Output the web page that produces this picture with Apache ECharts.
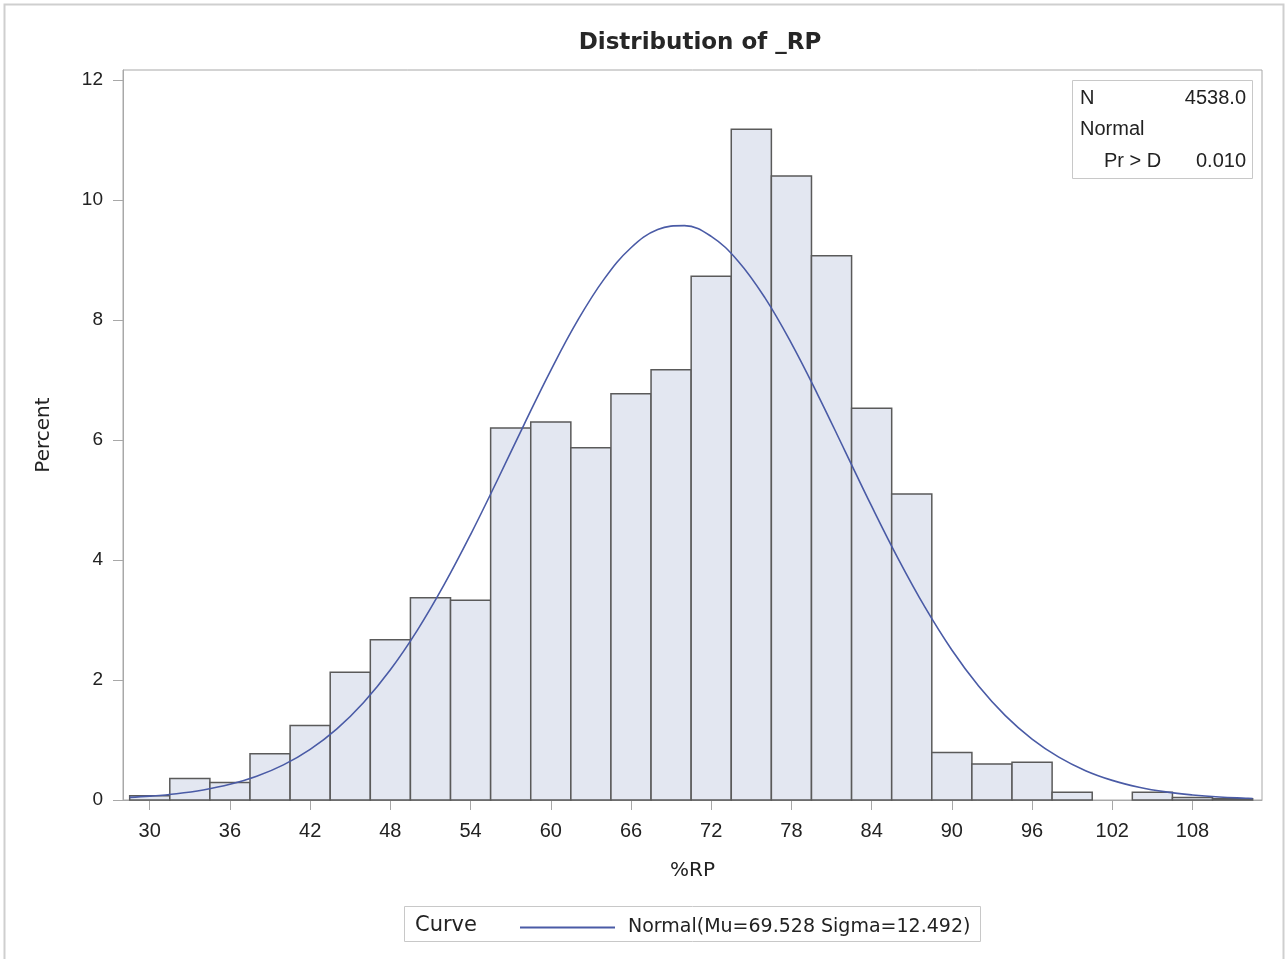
<!DOCTYPE html>
<html>
<head>
<meta charset="utf-8">
<script src="https://cdn.jsdelivr.net/npm/echarts@6/dist/echarts.min.js"></script>
<style>
  html, body { margin: 0; padding: 0; background: #fff; }
  #chart { width: 1286px; height: 959px; }
</style>
</head>
<body>
<div id="chart"></div>
<script>
// histogram bins (midpoints, width 3) and percent per bin
const binMids = [30, 33, 36, 39, 42, 45, 48, 51, 54, 57, 60, 63, 66, 69, 72, 75, 78, 81, 84, 87, 90, 93, 96, 99, 102, 105, 108, 111];
const binPct = [0.07, 0.36, 0.29, 0.77, 1.24, 2.13, 2.67, 3.37, 3.33, 6.2, 6.3, 5.87, 6.77, 7.17, 8.73, 11.18, 10.4, 9.07, 6.53, 5.1, 0.79, 0.6, 0.63, 0.13, 0, 0.13, 0.04, 0.02];
const binWidth = 3;

// fitted normal curve
const curveX = [28.5, 30, 32, 34, 36, 38, 40, 42, 44, 46, 48, 50, 52, 54, 56, 58, 60, 62, 64, 66, 68, 70, 72, 74, 76, 78, 80, 82, 84, 86, 88, 90, 92, 94, 96, 98, 100, 102, 104, 106, 108, 110, 112, 112.5];
const curveY = [0.044, 0.064, 0.105, 0.168, 0.261, 0.396, 0.586, 0.845, 1.187, 1.626, 2.17, 2.823, 3.58, 4.424, 5.329, 6.258, 7.162, 7.989, 8.686, 9.205, 9.508, 9.573, 9.394, 8.985, 8.377, 7.611, 6.741, 5.82, 4.897, 4.016, 3.21, 2.501, 1.9, 1.406, 1.015, 0.714, 0.489, 0.327, 0.213, 0.135, 0.084, 0.05, 0.03, 0.026];

const xTicks = [30, 36, 42, 48, 54, 60, 66, 72, 78, 84, 90, 96, 102, 108];
const yTicks = [0, 2, 4, 6, 8, 10, 12];

const legendName = "Normal(Mu=69.528 Sigma=12.492)";

const chart = echarts.init(document.getElementById("chart"), null, { renderer: "canvas" });
const fontLatin = "'Liberation Sans', Arial, sans-serif";
const fontWide = "'DejaVu Sans', sans-serif";

const option = {
  backgroundColor: "#fff",
  animation: false,
  title: {
    text: "Distribution of _RP",
    left: 695, top: 27, textAlign: "center",
    textStyle: { fontFamily: fontWide, fontSize: 23, fontWeight: "bold", color: "#262626" },
  },
  grid: {
    left: 123, right: 24, top: 70, bottom: 159,
    show: true, borderColor: "#a8a8a8", borderWidth: 1,
  },
  xAxis: {
    type: "value", min: 28, max: 113.2,
    name: "%RP", nameLocation: "middle", nameGap: 61,
    nameTextStyle: { fontFamily: fontWide, fontSize: 20, color: "#222" },
    axisLine: { show: true, lineStyle: { color: "#a8a8a8" } },
    axisTick: { show: true, length: 10, lineStyle: { color: "#a8a8a8" }, customValues: xTicks },
    axisLabel: { fontFamily: fontLatin, fontSize: 20, color: "#222", margin: 21, customValues: xTicks },
    splitLine: { show: false },
  },
  yAxis: {
    type: "value", min: 0, max: 12.167,
    name: "Percent", nameLocation: "middle", nameGap: 69, nameRotate: 90,
    nameTextStyle: { fontFamily: fontWide, fontSize: 20, color: "#222" },
    axisLine: { show: true, lineStyle: { color: "#a8a8a8" } },
    axisTick: { show: true, length: 10, lineStyle: { color: "#a8a8a8" }, customValues: yTicks },
    axisLabel: { fontFamily: fontLatin, fontSize: 19, color: "#222", margin: 20, customValues: yTicks },
    splitLine: { show: false },
  },
  legend: {
    data: [{ name: legendName, icon: "rect" }],
    left: 515, top: 913,
    itemWidth: 95, itemHeight: 2,
    textStyle: { fontFamily: fontWide, fontSize: 19, color: "#222", padding: [0, 0, 0, 8] },
    selectedMode: false,
  },
  series: [
    {
      name: "bins",
      type: "custom",
      data: binMids.map((m, i) => [m, binPct[i]]),
      renderItem: (params, api) => {
        const x = api.value(0), y = api.value(1);
        if (y <= 0) return null;
        const p0 = api.coord([x - binWidth / 2, y]);
        const p1 = api.coord([x + binWidth / 2, 0]);
        return {
          type: "rect",
          shape: { x: p0[0], y: p0[1], width: p1[0] - p0[0], height: p1[1] - p0[1] },
          style: { fill: "#e3e7f1", stroke: "#5a5a5a", lineWidth: 1.5 },
        };
      },
      z: 2,
    },
    {
      name: legendName,
      type: "line",
      data: curveX.map((x, i) => [x, curveY[i]]),
      smooth: 0.4,
      symbol: "none",
      lineStyle: { color: "#4a5ba6", width: 1.6 },
      itemStyle: { color: "#4a5ba6" },
      z: 3,
    },
  ],
  graphic: [
    // outer image frame
    { type: "rect", shape: { x: 4.5, y: 4.5, width: 1279, height: 980 }, style: { fill: null, stroke: "#cfcfcf", lineWidth: 2 }, silent: true },
    // stats inset
    { type: "rect", shape: { x: 1072.5, y: 80.5, width: 180, height: 98 }, style: { fill: "#fff", stroke: "#c8c8c8", lineWidth: 1 }, z: 10 },
    { type: "text", x: 1080, y: 98, style: { text: "N", fontFamily: fontLatin, fontSize: 20, fill: "#222", verticalAlign: "middle" }, z: 11 },
    { type: "text", x: 1246, y: 98, style: { text: "4538.0", fontFamily: fontLatin, fontSize: 20, fill: "#222", align: "right", verticalAlign: "middle" }, z: 11 },
    { type: "text", x: 1080, y: 129, style: { text: "Normal", fontFamily: fontLatin, fontSize: 20, fill: "#222", verticalAlign: "middle" }, z: 11 },
    { type: "text", x: 1104, y: 161, style: { text: "Pr > D", fontFamily: fontLatin, fontSize: 20, fill: "#222", verticalAlign: "middle" }, z: 11 },
    { type: "text", x: 1246, y: 161, style: { text: "0.010", fontFamily: fontLatin, fontSize: 20, fill: "#222", align: "right", verticalAlign: "middle" }, z: 11 },
    // legend frame
    { type: "rect", shape: { x: 404.5, y: 906.5, width: 576, height: 35 }, style: { fill: null, stroke: "#c8c8c8", lineWidth: 1 } },
    { type: "text", x: 415, y: 926, style: { text: "Curve", fontFamily: fontWide, fontSize: 21, fill: "#222", verticalAlign: "middle" } },
  ],
};

chart.setOption(option);
</script>
</body>
</html>
